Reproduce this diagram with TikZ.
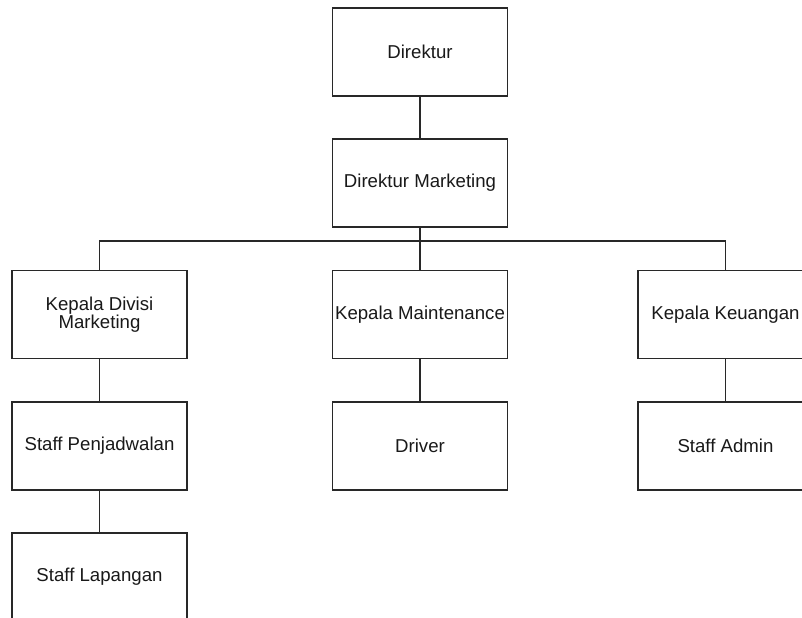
\documentclass[tikz,border=0pt]{standalone}
\usepackage{fontspec}
\setmainfont{Liberation Sans}
\usepackage{tikz}
\usetikzlibrary{positioning}
\usepackage{xcolor}
\definecolor{boxc}{RGB}{40,40,40}
\tikzset{
  unit/.style={rectangle,draw=boxc,line width=0.8pt,fill=white,minimum width=3.5cm,minimum height=1.76cm,
    inner sep=0.5pt,align=center,font=\fontsize{10.6}{10.2}\selectfont,text=black!90},
  link/.style={line width=0.8pt,boxc},
}
\begin{document}
\begin{tikzpicture}
  \useasboundingbox (0,0) rectangle (16.04,-12.34);
  % ---- top of the chart ----
  \node[unit] (dir) at (8.4,-1.04) {Direktur};
  \node[unit] (dirm) at (8.4,-3.66) {Direktur Marketing};
  \coordinate (bus) at (8.4,-4.82);
  % ---- heads of division ----
  \node[unit] (kdm) at (1.99,-6.29) {Kepala Divisi\\Marketing};
  \node[unit] (kmt) at (8.4,-6.29) {Kepala Maintenance};
  \node[unit] (kku) at (14.51,-6.29) {Kepala Keuangan};
  % ---- staff ----
  \node[unit] (spj) at (1.99,-8.92) {Staff Penjadwalan};
  \node[unit] (slp) at (1.99,-11.54) {Staff Lapangan};
  \node[unit] (drv) at (8.4,-8.92) {Driver};
  \node[unit] (sad) at (14.51,-8.92) {Staff Admin};
  % ---- connectors ----
  \draw[link] (dir) -- (dirm);
  \draw[link] (dirm) -- (bus);
  \draw[link] (bus) -| (kdm.north);
  \draw[link] (bus) -- (kmt.north);
  \draw[link] (bus) -| (kku.north);
  \draw[link] (kdm) -- (spj);
  \draw[link] (spj) -- (slp);
  \draw[link] (kmt) -- (drv);
  \draw[link] (kku) -- (sad);
\end{tikzpicture}
\end{document}
